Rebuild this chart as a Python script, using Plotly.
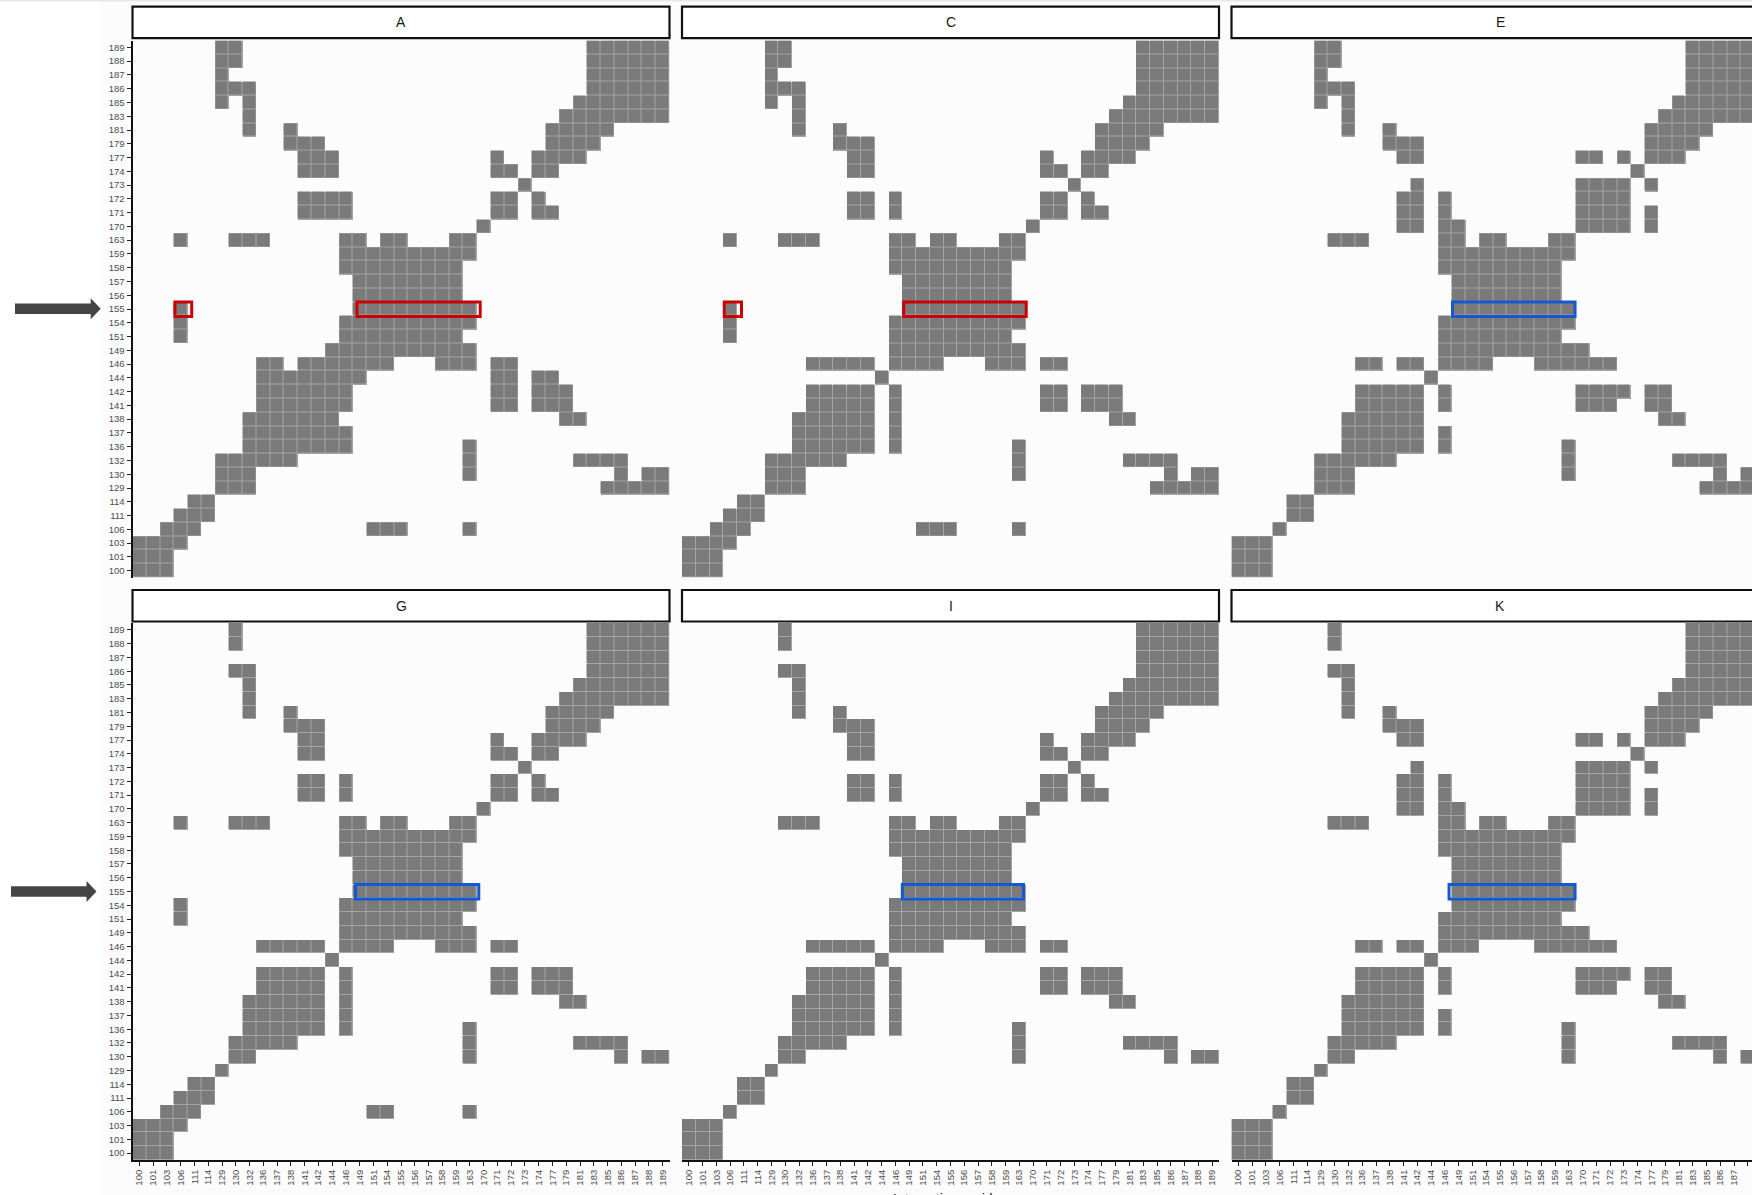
import plotly.graph_objects as go

# ---------------- data ----------------
residues = [100, 101, 103, 106, 111, 114, 129, 130, 132, 136, 137, 138, 141, 142, 144, 146, 149, 151,
            154, 155, 156, 157, 158, 159, 163, 170, 171, 172, 173, 174, 177, 179, 181, 183, 185, 186,
            187, 188, 189]
tick_labels = [str(r) for r in residues]
panel_names = ["A", "C", "E", "G", "I", "K"]
highlight_residue = 155

# rows listed top (189) to bottom (100); columns 100 -> 189 ('#' = contact)
contacts_A = [
    "...... ##.... ...... ...... ...... ...### ###",  # 189
    "...... ##.... ...... ...... ...... ...### ###",  # 188
    "...... #..... ...... ...... ...... ...### ###",  # 187
    "...... ###... ...... ...... ...... ...### ###",  # 186
    "...... #.#... ...... ...... ...... ..#### ###",  # 185
    "...... ..#... ...... ...... ...... .##### ###",  # 183
    "...... ..#..# ...... ...... ...... #####. ...",  # 181
    "...... .....# ##.... ...... ...... ####.. ...",  # 179
    "...... ...... ###... ...... ..#..# ###... ...",  # 177
    "...... ...... ###... ...... ..##.# #..... ...",  # 174
    "...... ...... ...... ...... ....#. ...... ...",  # 173
    "...... ...... ####.. ...... ..##.# ...... ...",  # 172
    "...... ...... ####.. ...... ..##.# #..... ...",  # 171
    "...... ...... ...... ...... .#.... ...... ...",  # 170
    "...#.. .###.. ...##. ##...# #..... ...... ...",  # 163
    "...... ...... ...### ###### #..... ...... ...",  # 159
    "...... ...... ...### ###### ...... ...... ...",  # 158
    "...... ...... ....## ###### ...... ...... ...",  # 157
    "...... ...... ....## ###### ...... ...... ...",  # 156
    "...#.. ...... ....## ###### #..... ...... ...",  # 155
    "...#.. ...... ...### ###### #..... ...... ...",  # 154
    "...#.. ...... ...### ###### ...... ...... ...",  # 151
    "...... ...... ..#### ###### #..... ...... ...",  # 149
    "...... ...##. ###### #...## #.##.. ...... ...",  # 146
    "...... ...### #####. ...... ..##.# #..... ...",  # 144
    "...... ...### ####.. ...... ..##.# ##.... ...",  # 142
    "...... ...### ####.. ...... ..##.# ##.... ...",  # 141
    "...... ..#### ###... ...... ...... .##... ...",  # 138
    "...... ..#### ####.. ...... ...... ...... ...",  # 137
    "...... ..#### ####.. ...... #..... ...... ...",  # 136
    "...... ###### ...... ...... #..... ..#### ...",  # 132
    "...... ###... ...... ...... #..... .....# .##",  # 130
    "...... ###... ...... ...... ...... ....## ###",  # 129
    "....## ...... ...... ...... ...... ...... ...",  # 114
    "...### ...... ...... ...... ...... ...... ...",  # 111
    "..###. ...... .....# ##.... #..... ...... ...",  # 106
    "####.. ...... ...... ...... ...... ...... ...",  # 103
    "###... ...... ...... ...... ...... ...... ...",  # 101
    "###... ...... ...... ...... ...... ...... ...",  # 100
]

contacts_C = [
    "...... ##.... ...... ...... ...... ...### ###",  # 189
    "...... ##.... ...... ...... ...... ...### ###",  # 188
    "...... #..... ...... ...... ...... ...### ###",  # 187
    "...... ###... ...... ...... ...... ...### ###",  # 186
    "...... #.#... ...... ...... ...... ..#### ###",  # 185
    "...... ..#... ...... ...... ...... .##### ###",  # 183
    "...... ..#..# ...... ...... ...... #####. ...",  # 181
    "...... .....# ##.... ...... ...... ####.. ...",  # 179
    "...... ...... ##.... ...... ..#..# ###... ...",  # 177
    "...... ...... ##.... ...... ..##.# #..... ...",  # 174
    "...... ...... ...... ...... ....#. ...... ...",  # 173
    "...... ...... ##.#.. ...... ..##.# ...... ...",  # 172
    "...... ...... ##.#.. ...... ..##.# #..... ...",  # 171
    "...... ...... ...... ...... .#.... ...... ...",  # 170
    "...#.. .###.. ...##. ##...# #..... ...... ...",  # 163
    "...... ...... ...### ###### #..... ...... ...",  # 159
    "...... ...... ...### ###### ...... ...... ...",  # 158
    "...... ...... ....## ###### ...... ...... ...",  # 157
    "...... ...... ....## ###### ...... ...... ...",  # 156
    "...#.. ...... ....## ###### #..... ...... ...",  # 155
    "...#.. ...... ...### ###### #..... ...... ...",  # 154
    "...#.. ...... ...### ###### ...... ...... ...",  # 151
    "...... ...... ...### ###### #..... ...... ...",  # 149
    "...... ...### ##.### #...## #.##.. ...... ...",  # 146
    "...... ...... ..#... ...... ...... ...... ...",  # 144
    "...... ...### ##.#.. ...... ..##.# ##.... ...",  # 142
    "...... ...### ##.#.. ...... ..##.# ##.... ...",  # 141
    "...... ..#### ##.#.. ...... ...... .##... ...",  # 138
    "...... ..#### ##.#.. ...... ...... ...... ...",  # 137
    "...... ..#### ##.#.. ...... #..... ...... ...",  # 136
    "...... ###### ...... ...... #..... ..#### ...",  # 132
    "...... ###... ...... ...... #..... .....# .##",  # 130
    "...... ###... ...... ...... ...... ....## ###",  # 129
    "....## ...... ...... ...... ...... ...... ...",  # 114
    "...### ...... ...... ...... ...... ...... ...",  # 111
    "..###. ...... .....# ##.... #..... ...... ...",  # 106
    "####.. ...... ...... ...... ...... ...... ...",  # 103
    "###... ...... ...... ...... ...... ...... ...",  # 101
    "###... ...... ...... ...... ...... ...... ...",  # 100
]

contacts_E = [
    "...... ##.... ...... ...... ...... ...### ###",  # 189
    "...... ##.... ...... ...... ...... ...### ###",  # 188
    "...... #..... ...... ...... ...... ...### ###",  # 187
    "...... ###... ...... ...... ...... ...### ###",  # 186
    "...... #.#... ...... ...... ...... ..#### ###",  # 185
    "...... ..#... ...... ...... ...... .##### ###",  # 183
    "...... ..#..# ...... ...... ...... #####. ...",  # 181
    "...... .....# ##.... ...... ...... ####.. ...",  # 179
    "...... ...... ##.... ...... .##.#. ###... ...",  # 177
    "...... ...... ...... ...... .....# ...... ...",  # 174
    "...... ...... .#.... ...... .####. #..... ...",  # 173
    "...... ...... ##.#.. ...... .####. ...... ...",  # 172
    "...... ...... ##.#.. ...... .####. #..... ...",  # 171
    "...... ...... ##.##. ...... .####. #..... ...",  # 170
    "...... .###.. ...##. ##...# #..... ...... ...",  # 163
    "...... ...... ...### ###### #..... ...... ...",  # 159
    "...... ...... ...### ###### ...... ...... ...",  # 158
    "...... ...... ....## ###### ...... ...... ...",  # 157
    "...... ...... ....## ###### ...... ...... ...",  # 156
    "...... ...... ....## ###### #..... ...... ...",  # 155
    "...... ...... ...### ###### #..... ...... ...",  # 154
    "...... ...... ...### ###### ...... ...... ...",  # 151
    "...... ...... ...### ###### ##.... ...... ...",  # 149
    "...... ...##. ##.### #...## ####.. ...... ...",  # 146
    "...... ...... ..#... ...... ...... ...... ...",  # 144
    "...... ...### ##.#.. ...... .####. ##.... ...",  # 142
    "...... ...### ##.#.. ...... .###.. ##.... ...",  # 141
    "...... ..#### ##.... ...... ...... .##... ...",  # 138
    "...... ..#### ##.#.. ...... ...... ...... ...",  # 137
    "...... ..#### ##.#.. ...... #..... ...... ...",  # 136
    "...... ###### ...... ...... #..... ..#### ...",  # 132
    "...... ###... ...... ...... #..... .....# .##",  # 130
    "...... ###... ...... ...... ...... ....## ###",  # 129
    "....## ...... ...... ...... ...... ...... ...",  # 114
    "....## ...... ...... ...... ...... ...... ...",  # 111
    "...#.. ...... ...... ...... ...... ...... ...",  # 106
    "###... ...... ...... ...... ...... ...... ...",  # 103
    "###... ...... ...... ...... ...... ...... ...",  # 101
    "###... ...... ...... ...... ...... ...... ...",  # 100
]

contacts_G = [
    "...... .#.... ...... ...... ...... ...### ###",  # 189
    "...... .#.... ...... ...... ...... ...### ###",  # 188
    "...... ...... ...... ...... ...... ...### ###",  # 187
    "...... .##... ...... ...... ...... ...### ###",  # 186
    "...... ..#... ...... ...... ...... ..#### ###",  # 185
    "...... ..#... ...... ...... ...... .##### ###",  # 183
    "...... ..#..# ...... ...... ...... #####. ...",  # 181
    "...... .....# ##.... ...... ...... ####.. ...",  # 179
    "...... ...... ##.... ...... ..#..# ###... ...",  # 177
    "...... ...... ##.... ...... ..##.# #..... ...",  # 174
    "...... ...... ...... ...... ....#. ...... ...",  # 173
    "...... ...... ##.#.. ...... ..##.# ...... ...",  # 172
    "...... ...... ##.#.. ...... ..##.# #..... ...",  # 171
    "...... ...... ...... ...... .#.... ...... ...",  # 170
    "...#.. .###.. ...##. ##...# #..... ...... ...",  # 163
    "...... ...... ...### ###### #..... ...... ...",  # 159
    "...... ...... ...### ###### ...... ...... ...",  # 158
    "...... ...... ....## ###### ...... ...... ...",  # 157
    "...... ...... ....## ###### ...... ...... ...",  # 156
    "...... ...... ....## ###### #..... ...... ...",  # 155
    "...#.. ...... ...### ###### #..... ...... ...",  # 154
    "...#.. ...... ...### ###### ...... ...... ...",  # 151
    "...... ...... ...### ###### #..... ...... ...",  # 149
    "...... ...### ##.### #...## #.##.. ...... ...",  # 146
    "...... ...... ..#... ...... ...... ...... ...",  # 144
    "...... ...### ##.#.. ...... ..##.# ##.... ...",  # 142
    "...... ...### ##.#.. ...... ..##.# ##.... ...",  # 141
    "...... ..#### ##.#.. ...... ...... .##... ...",  # 138
    "...... ..#### ##.#.. ...... ...... ...... ...",  # 137
    "...... ..#### ##.#.. ...... #..... ...... ...",  # 136
    "...... .##### ...... ...... #..... ..#### ...",  # 132
    "...... .##... ...... ...... #..... .....# .##",  # 130
    "...... #..... ...... ...... ...... ...... ...",  # 129
    "....## ...... ...... ...... ...... ...... ...",  # 114
    "...### ...... ...... ...... ...... ...... ...",  # 111
    "..###. ...... .....# #..... #..... ...... ...",  # 106
    "####.. ...... ...... ...... ...... ...... ...",  # 103
    "###... ...... ...... ...... ...... ...... ...",  # 101
    "###... ...... ...... ...... ...... ...... ...",  # 100
]

contacts_I = [
    "...... .#.... ...... ...... ...... ...### ###",  # 189
    "...... .#.... ...... ...... ...... ...### ###",  # 188
    "...... ...... ...... ...... ...... ...### ###",  # 187
    "...... .##... ...... ...... ...... ...### ###",  # 186
    "...... ..#... ...... ...... ...... ..#### ###",  # 185
    "...... ..#... ...... ...... ...... .##### ###",  # 183
    "...... ..#..# ...... ...... ...... #####. ...",  # 181
    "...... .....# ##.... ...... ...... ####.. ...",  # 179
    "...... ...... ##.... ...... ..#..# ###... ...",  # 177
    "...... ...... ##.... ...... ..##.# #..... ...",  # 174
    "...... ...... ...... ...... ....#. ...... ...",  # 173
    "...... ...... ##.#.. ...... ..##.# ...... ...",  # 172
    "...... ...... ##.#.. ...... ..##.# #..... ...",  # 171
    "...... ...... ...... ...... .#.... ...... ...",  # 170
    "...... .###.. ...##. ##...# #..... ...... ...",  # 163
    "...... ...... ...### ###### #..... ...... ...",  # 159
    "...... ...... ...### ###### ...... ...... ...",  # 158
    "...... ...... ....## ###### ...... ...... ...",  # 157
    "...... ...... ....## ###### ...... ...... ...",  # 156
    "...... ...... ....## ###### #..... ...... ...",  # 155
    "...... ...... ...### ###### #..... ...... ...",  # 154
    "...... ...... ...### ###### ...... ...... ...",  # 151
    "...... ...... ...### ###### #..... ...... ...",  # 149
    "...... ...### ##.### #...## #.##.. ...... ...",  # 146
    "...... ...... ..#... ...... ...... ...... ...",  # 144
    "...... ...### ##.#.. ...... ..##.# ##.... ...",  # 142
    "...... ...### ##.#.. ...... ..##.# ##.... ...",  # 141
    "...... ..#### ##.#.. ...... ...... .##... ...",  # 138
    "...... ..#### ##.#.. ...... ...... ...... ...",  # 137
    "...... ..#### ##.#.. ...... #..... ...... ...",  # 136
    "...... .##### ...... ...... #..... ..#### ...",  # 132
    "...... .##... ...... ...... #..... .....# .##",  # 130
    "...... #..... ...... ...... ...... ...... ...",  # 129
    "....## ...... ...... ...... ...... ...... ...",  # 114
    "....## ...... ...... ...... ...... ...... ...",  # 111
    "...#.. ...... ...... ...... ...... ...... ...",  # 106
    "###... ...... ...... ...... ...... ...... ...",  # 103
    "###... ...... ...... ...... ...... ...... ...",  # 101
    "###... ...... ...... ...... ...... ...... ...",  # 100
]

contacts_K = [
    "...... .#.... ...... ...... ...... ...### ###",  # 189
    "...... .#.... ...... ...... ...... ...### ###",  # 188
    "...... ...... ...... ...... ...... ...### ###",  # 187
    "...... .##... ...... ...... ...... ...### ###",  # 186
    "...... ..#... ...... ...... ...... ..#### ###",  # 185
    "...... ..#... ...... ...... ...... .##### ###",  # 183
    "...... ..#..# ...... ...... ...... #####. ...",  # 181
    "...... .....# ##.... ...... ...... ####.. ...",  # 179
    "...... ...... ##.... ...... .##.#. ###... ...",  # 177
    "...... ...... ...... ...... .....# ...... ...",  # 174
    "...... ...... .#.... ...... .####. #..... ...",  # 173
    "...... ...... ##.#.. ...... .####. ...... ...",  # 172
    "...... ...... ##.#.. ...... .####. #..... ...",  # 171
    "...... ...... ##.##. ...... .####. #..... ...",  # 170
    "...... .###.. ...##. ##...# #..... ...... ...",  # 163
    "...... ...... ...### ###### #..... ...... ...",  # 159
    "...... ...... ...### ###### ...... ...... ...",  # 158
    "...... ...... ....## ###### ...... ...... ...",  # 157
    "...... ...... ....## ###### ...... ...... ...",  # 156
    "...... ...... ....## ###### #..... ...... ...",  # 155
    "...... ...... ....## ###### #..... ...... ...",  # 154
    "...... ...... ...### ###### ...... ...... ...",  # 151
    "...... ...... ...### ###### ##.... ...... ...",  # 149
    "...... ...##. ##.### ....## ####.. ...... ...",  # 146
    "...... ...... ..#... ...... ...... ...... ...",  # 144
    "...... ...### ##.#.. ...... .####. ##.... ...",  # 142
    "...... ...### ##.#.. ...... .###.. ##.... ...",  # 141
    "...... ..#### ##.... ...... ...... .##... ...",  # 138
    "...... ..#### ##.#.. ...... ...... ...... ...",  # 137
    "...... ..#### ##.#.. ...... #..... ...... ...",  # 136
    "...... .##### ...... ...... #..... ..#### ...",  # 132
    "...... .##... ...... ...... #..... .....# .##",  # 130
    "...... #..... ...... ...... ...... ...... ...",  # 129
    "....## ...... ...... ...... ...... ...... ...",  # 114
    "....## ...... ...... ...... ...... ...... ...",  # 111
    "...#.. ...... ...... ...... ...... ...... ...",  # 106
    "###... ...... ...... ...... ...... ...... ...",  # 103
    "###... ...... ...... ...... ...... ...... ...",  # 101
    "###... ...... ...... ...... ...... ...... ...",  # 100
]

panel_contacts = [contacts_A, contacts_C, contacts_E, contacts_G, contacts_I, contacts_K]

# highlighted segments on residue 155 (column index ranges) and colours
highlight_segments = [
    [(15.8, 24.75), (2.58, 3.8)],   # A
    [(15.6, 24.5), (2.57, 3.82)],   # C
    [(15.55, 24.45)],               # E
    [(15.7, 24.65)],                # G
    [(15.5, 24.3)],                 # I
    [(15.3, 24.45)],                # K
]
highlight_colors = ["#CC0000", "#CC0000", "#1458D2", "#1458D2", "#1458D2", "#1458D2"]

# ---------------- layout geometry (pixels) ----------------
W, H = 1752, 1195
PANEL = 537.0
N = len(residues)
CELL = PANEL / N
col_x0 = [132.5, 682.0, 1231.5]
row_y0 = [40.5, 623.0]
strip_y = [(6.7, 38.2), (590.0, 621.5)]

CELL_GRAY = "#7A7A7A"
GRID_GRAY = "#A4A4A4"
BG = "#FCFCFC"
FONT = "Liberation Sans, Arial, Helvetica, sans-serif"


def px(x):
    return x / W


def py(y):
    return 1 - y / H


fig = go.Figure()
layout = dict(
    width=W, height=H,
    margin=dict(l=0, r=0, t=0, b=0),
    paper_bgcolor="white",
    plot_bgcolor=BG,
    showlegend=False,
    font=dict(family=FONT),
)
shapes = []
annotations = []

# figure background (ggplot area)
shapes.append(dict(type="rect", xref="paper", yref="paper", x0=px(101), x1=1.0, y0=0, y1=1,
                   fillcolor=BG, line=dict(width=0), layer="below"))
shapes.append(dict(type="rect", xref="paper", yref="paper", x0=0, x1=1.0, y0=py(1.6), y1=1,
                   fillcolor="#E3E8EF", line=dict(width=0), layer="above"))

row_index = {r: i for i, r in enumerate(residues)}
idx155 = row_index[highlight_residue]

for p, (name, rows) in enumerate(zip(panel_names, panel_contacts)):
    prow, pcol = divmod(p, 3)
    sfx = "" if p == 0 else str(p + 1)
    xa, ya = "x" + sfx, "y" + sfx

    clean = [r.replace(" ", "") for r in rows][::-1]  # bottom (100) first
    z_base = [[1 if ch == "#" else 0 for ch in r] for r in clean]
    z_top = [[1 if ch == "#" else None for ch in r] for r in clean]

    fig.add_trace(go.Heatmap(
        z=z_base, x=list(range(N)), y=list(range(N)), xaxis=xa, yaxis=ya,
        colorscale=[[0, BG], [1, GRID_GRAY]], zmin=0, zmax=1, showscale=False, hoverinfo="skip"))
    fig.add_trace(go.Heatmap(
        z=z_top, x=list(range(N)), y=list(range(N)), xaxis=xa, yaxis=ya,
        colorscale=[[0, CELL_GRAY], [1, CELL_GRAY]], zmin=0, zmax=1, showscale=False,
        xgap=1, ygap=1, hoverinfo="skip"))

    x0 = col_x0[pcol]
    x1 = min(x0 + PANEL, W)
    y0 = row_y0[prow]
    y1 = y0 + PANEL
    bottom = prow == 1
    left = pcol == 0

    layout["xaxis" + sfx] = dict(
        domain=[px(x0), px(x1)], range=[-0.5, -0.5 + (x1 - x0) / CELL], anchor=ya,
        tickmode="array", tickvals=list(range(N)), ticktext=tick_labels, tickangle=-90,
        showticklabels=bottom, ticks="outside" if bottom else "", ticklen=4, tickwidth=1.4,
        tickcolor="#222222", showline=bottom, linecolor="#111111", linewidth=2,
        tickfont=dict(size=9.5, color="#4D4D4D", family=FONT),
        showgrid=False, zeroline=False, fixedrange=True)
    layout["yaxis" + sfx] = dict(
        domain=[py(y1), py(y0)], range=[-0.5, N - 0.5], anchor=xa,
        tickmode="array", tickvals=list(range(N)), ticktext=tick_labels,
        showticklabels=left, ticks="outside" if left else "", ticklen=4, tickwidth=1.4,
        tickcolor="#222222", showline=left, linecolor="#111111", linewidth=2,
        tickfont=dict(size=9.5, color="#4D4D4D", family=FONT),
        showgrid=False, zeroline=False, fixedrange=True)

    # facet strip
    sy0, sy1 = strip_y[prow]
    shapes.append(dict(type="rect", xref="paper", yref="paper",
                       x0=px(x0), x1=px(x0 + PANEL), y0=py(sy1), y1=py(sy0),
                       fillcolor="white", line=dict(color="#111111", width=2.2), layer="above"))
    annotations.append(dict(xref="paper", yref="paper", x=px(x0 + PANEL / 2), y=py((sy0 + sy1) / 2),
                            text=name, showarrow=False, xanchor="center", yanchor="middle",
                            font=dict(size=14, color="#1A1A1A", family=FONT)))

    # highlight boxes on residue 155
    for (hx0, hx1) in highlight_segments[p]:
        shapes.append(dict(type="rect", xref=xa, yref=ya, x0=hx0, x1=hx1,
                           y0=idx155 - 0.55, y1=idx155 + 0.5,
                           line=dict(color=highlight_colors[p], width=3), fillcolor="rgba(0,0,0,0)",
                           layer="above"))

# arrows pointing at residue 155
arrow_specs = [(15.0, 90.7, 100.7, 308.7), (11.0, 86.5, 96.5, 891.5)]
for (ax0, ahead, atip, ay) in arrow_specs:
    shapes.append(dict(type="rect", xref="paper", yref="paper",
                       x0=px(ax0), x1=px(ahead + 0.5), y0=py(ay + 5.3), y1=py(ay - 5.3),
                       fillcolor="#444444", line=dict(width=0), layer="above"))
    path = "M {} {} L {} {} L {} {} Z".format(px(ahead), py(ay - 10.5), px(atip), py(ay),
                                              px(ahead), py(ay + 10.5))
    shapes.append(dict(type="path", xref="paper", yref="paper", path=path,
                       fillcolor="#444444", line=dict(width=0), layer="above"))

# x-axis title (mostly cut off at the bottom edge)
annotations.append(dict(xref="paper", yref="paper", x=px(950), y=py(1188.5),
                        text="Interacting residue", showarrow=False, xanchor="center", yanchor="top",
                        font=dict(size=14, color="#1A1A1A", family=FONT)))

layout["shapes"] = shapes
layout["annotations"] = annotations
fig.update_layout(**layout)

fig.write_html("out.html", config={"displayModeBar": False},
               post_script="document.body.style.margin='0px';document.body.style.overflow='hidden';")
